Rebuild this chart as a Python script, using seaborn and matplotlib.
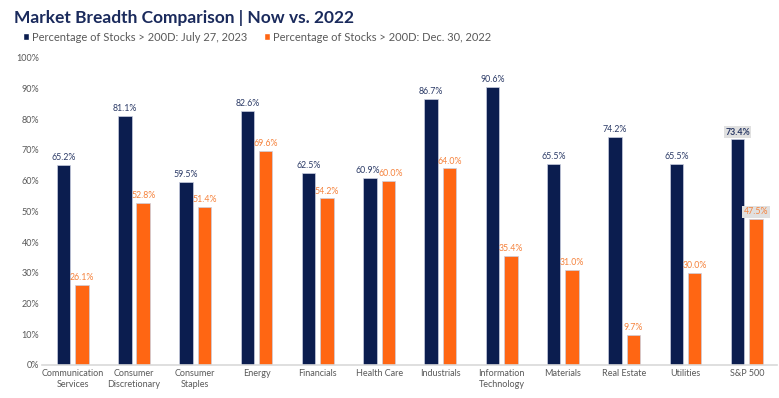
import pandas as pd
import seaborn as sns
import matplotlib.pyplot as plt
from matplotlib.patches import Patch

sns.set_theme(style="white")
plt.rcParams['font.family'] = ['Lato', 'DejaVu Sans']

sectors = ["Communication\nServices", "Consumer\nDiscretionary", "Consumer\nStaples",
           "Energy", "Financials", "Health Care", "Industrials", "Information\nTechnology",
           "Materials", "Real Estate", "Utilities", "S&P 500"]
now_2023 = [65.2, 81.1, 59.5, 82.6, 62.5, 60.9, 86.7, 90.6, 65.5, 74.2, 65.5, 73.4]
dec_2022 = [26.1, 52.8, 51.4, 69.6, 54.2, 60.0, 64.0, 35.4, 31.0, 9.7, 30.0, 47.5]
series = ["Percentage of Stocks > 200D: July 27, 2023",
          "Percentage of Stocks > 200D: Dec. 30, 2022"]
yticks = [0, 10, 20, 30, 40, 50, 60, 70, 80, 90, 100]

navy = "#0b1d4f"
orange = "#ff6613"
grey = "#595959"

df = pd.DataFrame({
    "sector": sectors * 2,
    "pct": now_2023 + dec_2022,
    "series": [series[0]] * len(sectors) + [series[1]] * len(sectors),
})

fig = plt.figure(figsize=(7.79, 3.98), dpi=100)
ax = fig.add_axes([0.054, 0.083, 0.944, 0.772])

sns.barplot(data=df, x="sector", y="pct", hue="series", hue_order=series,
            palette=[navy, orange], saturation=1, width=0.6, gap=0.27, ax=ax,
            edgecolor="#c9cfe0", linewidth=0.5, legend=False)

ax.set_ylim(0, 100)
ax.set_xlim(-0.5, len(sectors) - 0.5)
ax.set_yticks(yticks)
ax.set_yticklabels([f"{t}%" for t in yticks], fontsize=6.5, color=grey)
ax.tick_params(axis="x", labelsize=6.5, labelcolor=grey, length=0, pad=3)
ax.tick_params(axis="y", length=0, pad=2)
ax.set_xlabel("")
ax.set_ylabel("")
for s in ["top", "right", "left"]:
    ax.spines[s].set_visible(False)
ax.spines["bottom"].set_color("#d9d9d9")
ax.spines["bottom"].set_linewidth(1.2)

# value labels over the bars
label_cols = ["#2b3a66", "#f5823c"]
hc = sectors.index("Health Care")
for i, (cont, col) in enumerate(zip(ax.containers, label_cols)):
    labels = ax.bar_label(cont, fmt="%.1f%%", padding=2, fontsize=6.3, color=col)
    # health care labels sit side by side, push them apart a bit
    labels[hc].xyann = (-1.5 if i == 0 else 1.5, 2)
    # S&P 500 values are highlighted with a grey box
    last = labels[-1]
    last.set_bbox(dict(boxstyle="square,pad=0.15", facecolor="#e0e0e0", edgecolor="none"))
    if i == 0:
        last.set_fontweight("bold")

fig.text(0.018, 0.955, "Market Breadth Comparison | Now vs. 2022", fontsize=12.5,
         fontweight="bold", color="#1a2a5c", va="center")

handles = [Patch(facecolor=navy, label=series[0]), Patch(facecolor=orange, label=series[1])]
fig.legend(handles=handles, loc="center left", bbox_to_anchor=(0.03, 0.907), ncol=2,
           frameon=False, fontsize=8, labelcolor=grey, handlelength=0.5, handleheight=0.5,
           handletextpad=0.3, columnspacing=1.5, borderaxespad=0, borderpad=0)

fig.savefig("out.png", dpi=100)
